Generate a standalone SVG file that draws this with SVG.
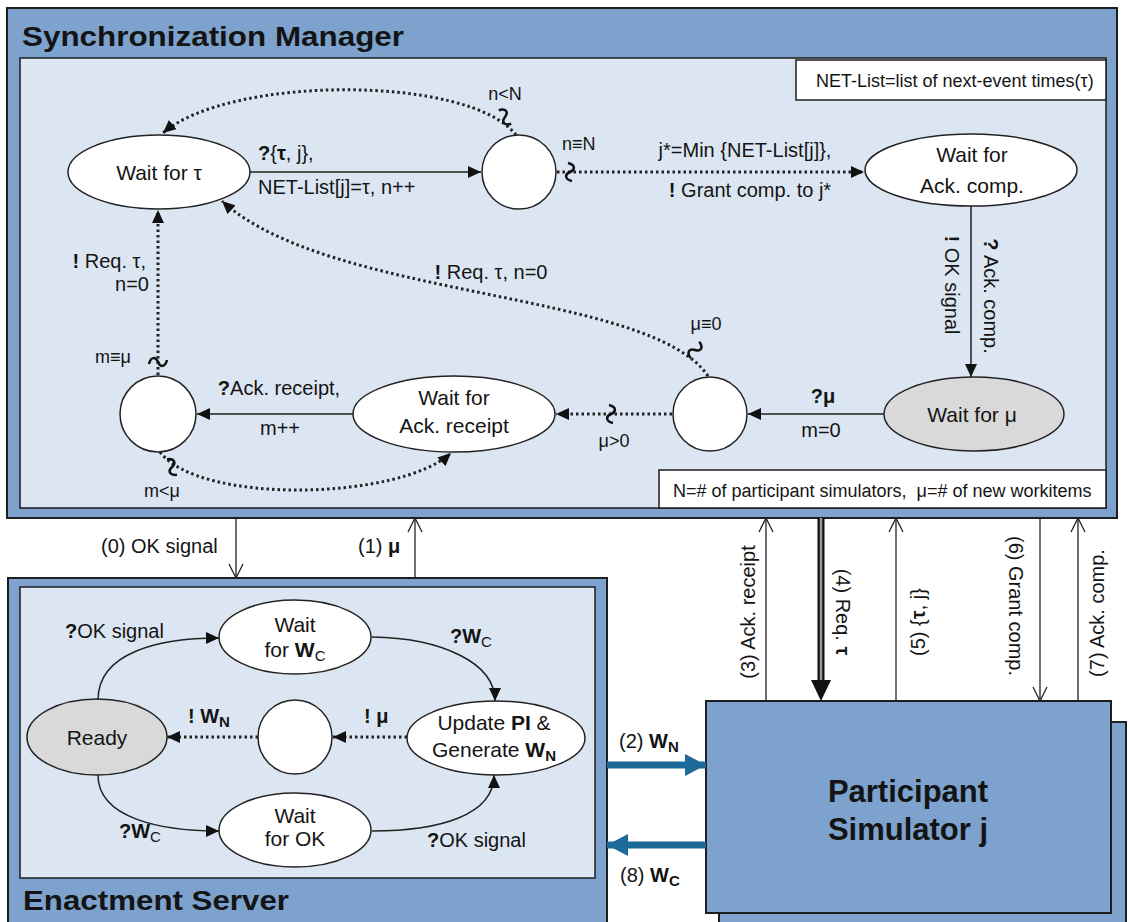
<svg xmlns="http://www.w3.org/2000/svg" width="1130" height="922" viewBox="0 0 1130 922">
<defs>
<style>
text{font-family:"Liberation Sans",Arial,sans-serif;fill:#141414}
.box{fill:#7CA2CD;stroke:#1e1e1e;stroke-width:2}
.panel{fill:#DCE6F2;stroke:#1e1e1e;stroke-width:1.5}
.note{fill:#fff;stroke:#1e1e1e;stroke-width:1.5}
.node{fill:#fff;stroke:#222;stroke-width:1.5}
.gray{fill:#D9D9D9}
.title{font-size:28px;font-weight:bold}
.nt{font-size:21px;text-anchor:middle}
.lb{font-size:20px}
.sm{font-size:18px}
.mid{text-anchor:middle}
.end{text-anchor:end}
.b{font-weight:bold}
.solid{fill:none;stroke:#222;stroke-width:1.5}
.dot{fill:none;stroke:#222;stroke-width:3;stroke-dasharray:2.5 3}
.thin{fill:none;stroke:#222;stroke-width:1.3}
.sq{fill:none;stroke:#111;stroke-width:2.5}
.blue{fill:none;stroke:#1D6A98;stroke-width:7}
</style>
<marker id="ah" markerUnits="userSpaceOnUse" markerWidth="14" markerHeight="12" refX="13" refY="6" orient="auto"><path d="M0,0 L13,6 L0,12 z" fill="#111"/></marker>
<marker id="oh" markerUnits="userSpaceOnUse" markerWidth="16" markerHeight="16" refX="15" refY="8" orient="auto"><path d="M1,1 L15,8 L1,15" fill="none" stroke="#222" stroke-width="1.3"/></marker>
<marker id="bh" markerUnits="userSpaceOnUse" markerWidth="20" markerHeight="22" refX="20" refY="11" orient="auto"><path d="M0,1 L20,11 L0,21 z" fill="#111"/></marker>
<marker id="blh" markerUnits="userSpaceOnUse" markerWidth="22" markerHeight="24" refX="21" refY="12" orient="auto"><path d="M0,1 L21,12 L0,23 z" fill="#1D6A98"/></marker>
<path id="sqp" class="sq" d="M-2,-9 C6,-7 5,-2 0,0 C-5,2 -6,7 2,9"/>
</defs>

<g id="sync-manager">
<rect class="box" x="7" y="8" width="1110" height="510"/>
<text class="title" x="22" y="46" font-size="30" textLength="382" lengthAdjust="spacingAndGlyphs">Synchronization Manager</text>
<rect class="panel" x="20" y="58" width="1086" height="450"/>
<rect class="note" x="796" y="60" width="310" height="40"/>
<text x="816" y="87" font-size="18">NET-List=list of next-event times(τ)</text>
<rect class="note" x="659" y="470" width="447" height="38"/>
<text x="673" y="497" font-size="18" xml:space="preserve">N=# of participant simulators,  μ=# of new workitems</text>
</g>

<g id="enactment-server">
<rect class="box" x="8" y="578" width="599" height="360"/>
<rect class="panel" x="20" y="587" width="575" height="291"/>
<text class="title" x="23" y="910" font-size="29" textLength="266" lengthAdjust="spacingAndGlyphs">Enactment Server</text>
</g>

<g id="participant-simulator">
<rect class="box" x="719" y="722" width="407" height="220"/>
<rect class="box" x="706" y="701" width="405" height="212"/>
<text x="908" y="802" font-size="31" font-weight="bold" text-anchor="middle">Participant</text>
<text x="908" y="840" font-size="31" font-weight="bold" text-anchor="middle">Simulator j</text>
</g>

<g id="n-wait-tau"><ellipse class="node" cx="159" cy="172" rx="91" ry="37"/><text class="nt" x="159" y="180">Wait for τ</text></g>
<g id="n-sm-c1"><circle class="node" cx="519" cy="172" r="37"/></g>
<g id="n-wait-ack-comp"><ellipse class="node" cx="971" cy="170" rx="106" ry="36"/><text class="nt" x="972" y="162">Wait for</text><text class="nt" x="972" y="193">Ack. comp.</text></g>
<g id="n-wait-mu"><ellipse class="node gray" cx="974" cy="414" rx="90" ry="37"/><text class="nt" x="972" y="422">Wait for μ</text></g>
<g id="n-sm-c2"><circle class="node" cx="710" cy="414" r="37"/></g>
<g id="n-wait-ack-receipt"><ellipse class="node" cx="454" cy="414" rx="101" ry="38"/><text class="nt" x="454" y="405">Wait for</text><text class="nt" x="454" y="433">Ack. receipt</text></g>
<g id="n-sm-c3"><circle class="node" cx="158" cy="414" r="38"/></g>

<g id="n-wait-wc"><ellipse class="node" cx="295" cy="637" rx="76" ry="37"/><text class="nt" x="295" y="632">Wait</text><text class="nt" x="295" y="657">for <tspan class="b">W</tspan><tspan font-size="15" dy="4">C</tspan></text></g>
<g id="n-ready"><ellipse class="node gray" cx="97" cy="737" rx="70" ry="38"/><text class="nt" x="97" y="745">Ready</text></g>
<g id="n-es-c4"><circle class="node" cx="295" cy="737" r="37"/></g>
<g id="n-update"><ellipse class="node" cx="496" cy="738" rx="89" ry="37"/><text class="nt" x="494" y="730">Update <tspan class="b">PI</tspan> &amp;</text><text class="nt" x="494" y="757">Generate <tspan class="b">W</tspan><tspan class="b" font-size="15" dy="4">N</tspan></text></g>
<g id="n-wait-ok"><ellipse class="node" cx="295" cy="830" rx="76" ry="37"/><text class="nt" x="295" y="823">Wait</text><text class="nt" x="295" y="846">for OK</text></g>

<g id="connectors">
<!-- sync manager -->
<line class="solid" x1="250" y1="172" x2="481" y2="172" marker-end="url(#ah)"/>
<path class="dot" d="M516,135 C470,75 230,75 163,133" marker-end="url(#ah)"/>
<line class="dot" x1="557" y1="172" x2="864" y2="172" marker-end="url(#ah)"/>
<line class="solid" x1="971" y1="206" x2="971" y2="377" marker-end="url(#ah)"/>
<line class="solid" x1="884" y1="414" x2="748" y2="414" marker-end="url(#ah)"/>
<line class="dot" x1="672" y1="414" x2="556" y2="414" marker-end="url(#ah)"/>
<line class="solid" x1="353" y1="414" x2="197" y2="414" marker-end="url(#ah)"/>
<path class="dot" d="M160,452 C200,505 400,500 451,453" marker-end="url(#ah)"/>
<line class="dot" x1="158" y1="375" x2="158" y2="210" marker-end="url(#ah)"/>
<path class="dot" d="M708,376 C650,290 330,300 222,201" marker-end="url(#ah)"/>
<use href="#sqp" transform="translate(505,117) rotate(-30)"/>
<use href="#sqp" transform="translate(570,172)"/>
<use href="#sqp" transform="translate(158,362) rotate(90)"/>
<use href="#sqp" transform="translate(172,467) rotate(-20)"/>
<use href="#sqp" transform="translate(695,350) rotate(40)"/>
<use href="#sqp" transform="translate(611,414)"/>
<text class="lb" x="258" y="160"><tspan class="b">?</tspan>{<tspan class="b">τ</tspan>, j},</text>
<text class="lb" x="258" y="194">NET-List[j]=τ, n++</text>
<text class="sm mid" x="505" y="100">n&lt;N</text>
<text class="sm" x="562" y="150">n≡N</text>
<text class="lb mid" x="745" y="157">j*=Min {NET-List[j]},</text>
<text class="lb mid" x="750" y="197"><tspan class="b">!</tspan> Grant comp. to j*</text>
<text class="lb mid" transform="translate(945,285) rotate(90)"><tspan class="b">!</tspan> OK signal</text>
<text class="lb mid" transform="translate(984,296) rotate(90)"><tspan class="b">?</tspan> Ack. comp.</text>
<text class="lb mid b" x="823" y="403">?μ</text>
<text class="lb mid" x="821" y="437">m=0</text>
<text class="sm mid" x="706" y="330">μ≡0</text>
<text class="sm mid" x="614" y="447">μ&gt;0</text>
<text class="lb mid" x="279" y="395"><tspan class="b">?</tspan>Ack. receipt,</text>
<text class="lb mid" x="280" y="435">m++</text>
<text class="sm mid" x="162" y="497">m&lt;μ</text>
<text class="sm mid" x="113" y="363">m≡μ</text>
<text class="lb end" x="146" y="268"><tspan class="b">!</tspan> Req. τ,</text>
<text class="lb end" x="149" y="291">n=0</text>
<text class="lb mid" x="491" y="279"><tspan class="b">!</tspan> Req. τ, n=0</text>
<!-- enactment server -->
<path class="solid" d="M98,700 C98,652 160,638 219,638" marker-end="url(#ah)"/>
<path class="solid" d="M372,637 C440,638 495,662 495,701" marker-end="url(#ah)"/>
<line class="dot" x1="407" y1="737" x2="333" y2="737" marker-end="url(#ah)"/>
<line class="dot" x1="258" y1="737" x2="167" y2="737" marker-end="url(#ah)"/>
<path class="solid" d="M98,775 C98,818 160,831 219,831" marker-end="url(#ah)"/>
<path class="solid" d="M372,831 C440,831 494,815 494,775" marker-end="url(#ah)"/>
<text class="lb" x="65" y="638"><tspan class="b">?</tspan>OK signal</text>
<text class="lb" x="450" y="643"><tspan class="b">?W</tspan><tspan font-size="15" dy="4">C</tspan></text>
<text class="lb b" x="188" y="723">! W<tspan font-size="15" dy="4">N</tspan></text>
<text class="lb b" x="364" y="723">! μ</text>
<text class="lb" x="119" y="838"><tspan class="b">?W</tspan><tspan font-size="15" dy="4">C</tspan></text>
<text class="lb" x="427" y="847"><tspan class="b">?</tspan>OK signal</text>
<!-- between boxes -->
<line class="thin" x1="236" y1="518" x2="236" y2="578" marker-end="url(#oh)"/>
<line class="thin" x1="415" y1="578" x2="415" y2="518" marker-end="url(#oh)"/>
<text class="lb" x="101" y="553">(0) OK signal</text>
<text class="lb" x="358" y="553">(1) <tspan class="b">μ</tspan></text>
<line class="blue" x1="607" y1="765" x2="706" y2="765" marker-end="url(#blh)"/>
<line class="blue" x1="706" y1="845" x2="607" y2="845" marker-end="url(#blh)"/>
<text class="lb" x="619" y="748">(2) <tspan class="b">W</tspan><tspan class="b" font-size="15" dy="4">N</tspan></text>
<text class="lb" x="620" y="882">(8) <tspan class="b">W</tspan><tspan class="b" font-size="15" dy="4">C</tspan></text>
<line class="thin" x1="766" y1="701" x2="766" y2="518" marker-end="url(#oh)"/>
<line x1="821" y1="518" x2="821" y2="684" stroke="#111" stroke-width="7"/>
<line x1="821" y1="518" x2="821" y2="684" stroke="#9a9a9a" stroke-width="2.5"/>
<path d="M811,680 L831,680 L821,701 z" fill="#111"/>
<line class="thin" x1="896" y1="701" x2="896" y2="518" marker-end="url(#oh)"/>
<line class="thin" x1="1040" y1="518" x2="1040" y2="701" marker-end="url(#oh)"/>
<line class="thin" x1="1078" y1="701" x2="1078" y2="518" marker-end="url(#oh)"/>
<text class="lb mid" transform="translate(755,612) rotate(-90)">(3) Ack. receipt</text>
<text class="lb mid" transform="translate(836,612) rotate(90)">(4) Req. <tspan class="b">τ</tspan></text>
<text class="lb mid" transform="translate(925,622) rotate(-90)">(5) {<tspan class="b">τ</tspan>, j}</text>
<text class="lb mid" transform="translate(1009,606) rotate(90)">(6) Grant comp.</text>
<text class="lb mid" transform="translate(1104,613) rotate(-90)">(7) Ack. comp.</text>
</g>
</svg>
